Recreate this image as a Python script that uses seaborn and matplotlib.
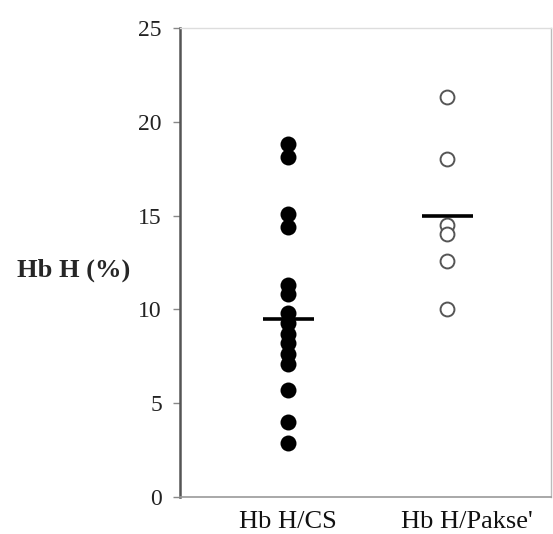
import numpy as np
import pandas as pd
import seaborn as sns
import matplotlib.pyplot as plt
from matplotlib.transforms import ScaledTranslation

# values
groups = ['Hb H/CS', "Hb H/Pakse'"]
hbh_cs = [18.8, 18.1, 15.1, 14.4, 11.3, 10.8, 9.8, 9.3, 8.7, 8.2, 7.6, 7.1, 5.7, 4.0, 2.9]
hbh_pakse = [21.3, 18.0, 14.5, 14.0, 12.6, 10.0]
group_means = [9.5, 15.0]
y_ticks = [0, 5, 10, 15, 20, 25]

df = pd.DataFrame({
    'group': [groups[0]] * len(hbh_cs) + [groups[1]] * len(hbh_pakse),
    'hbh': hbh_cs + hbh_pakse,
})

sns.set_style('white')
plt.rcParams['font.family'] = ['Liberation Serif', 'DejaVu Serif']

fig = plt.figure(figsize=(5.53, 5.34), dpi=100)
ax = fig.add_axes([0.3255, 0.0693, 0.671, 0.8783])

sns.stripplot(data=df[df.group == groups[0]], x='group', y='hbh', order=groups,
              jitter=False, color='black', size=11.5, linewidth=0, ax=ax)
sns.stripplot(data=df[df.group == groups[1]], x='group', y='hbh', order=groups,
              jitter=False, color='white', edgecolor='#555555', size=10,
              linewidth=1.4, ax=ax)

# mean bars
for i, m in enumerate(group_means):
    ax.hlines(m, i - 0.16, i + 0.16, color='black', linewidth=2.6, zorder=5)

ax.set_xlim(-0.68, 1.654)
ax.set_ylim(0, 25)
ax.set_yticks(y_ticks)
ax.set_xlabel('')
ax.set_ylabel('Hb H (%)', rotation=0, fontsize=19, fontweight='bold',
              ha='center', va='center')
ax.yaxis.set_label_coords(-0.288, 0.484)

ax.tick_params(axis='y', direction='out', length=5, width=1, color='#888888',
               pad=8, labelsize=17, labelcolor='#222222', left=True)
ax.tick_params(axis='x', length=0, pad=10, labelsize=19, labelcolor='#111111')

lbls = ax.get_xticklabels()
lbls[1].set_transform(lbls[1].get_transform() + ScaledTranslation(0.2, 0, fig.dpi_scale_trans))

ax.spines['left'].set_color('#555555')
ax.spines['left'].set_linewidth(1.8)
ax.spines['bottom'].set_color('#999999')
ax.spines['bottom'].set_linewidth(1.2)
ax.spines['right'].set_color('#bbbbbb')
ax.spines['right'].set_linewidth(1.0)
ax.spines['top'].set_color('#dddddd')
ax.spines['top'].set_linewidth(1.0)

fig.savefig('out.png', dpi=100)
